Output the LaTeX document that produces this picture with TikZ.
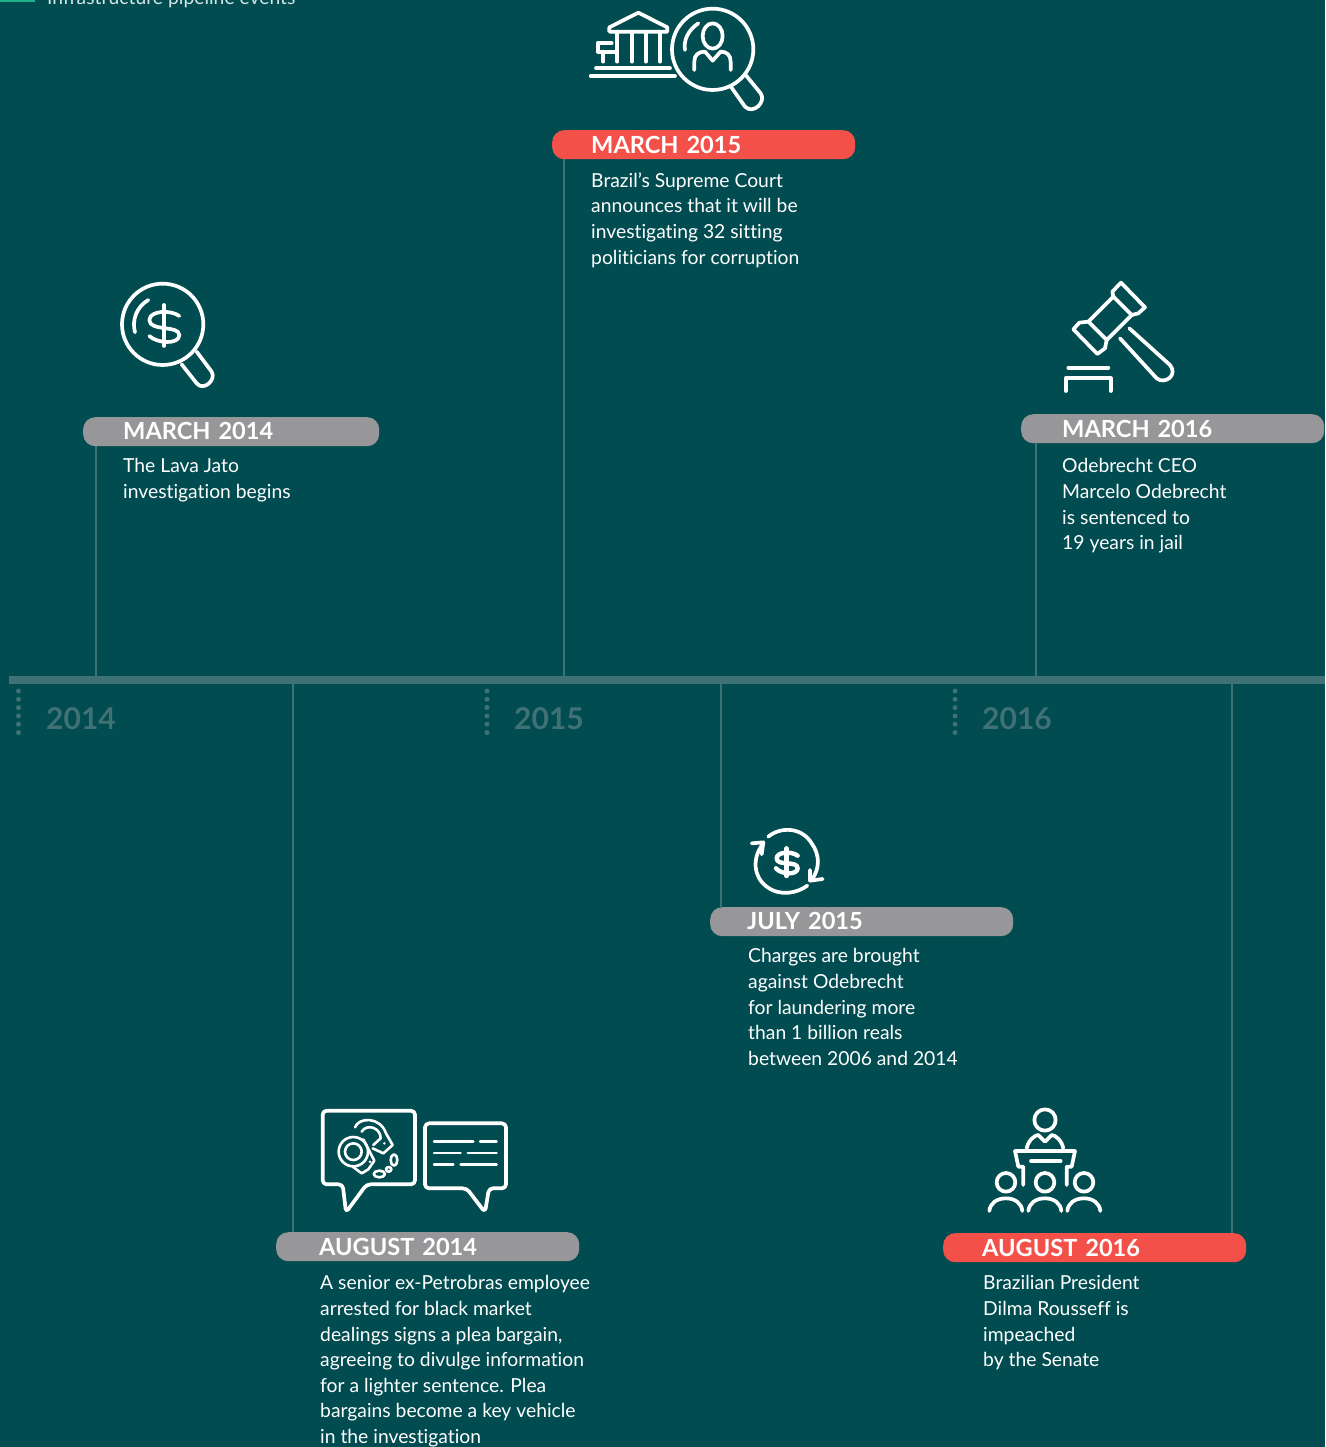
\documentclass[tikz,border=0pt]{standalone}
\usepackage{fontspec}
\setmainfont{Lato}[Ligatures=CommonOff]
\definecolor{bgteal}{HTML}{014C50}
\definecolor{axisteal}{HTML}{3F7175}
\definecolor{tagred}{HTML}{F4504A}
\definecolor{taggrey}{HTML}{97979A}
\definecolor{keygreen}{HTML}{1FB28A}
\definecolor{keytext}{HTML}{D5E5E5}
\newcommand{\tagtext}[3]{\hspace*{#1pt}\raisebox{#2pt}{#3}}
\tikzset{
  tagbox/.style={fill=#1, rounded corners=12pt, minimum width=303pt, minimum height=29pt, inner sep=0pt, text=white, anchor=north west, font=\fontsize{23.6}{25}\selectfont\bfseries, text width=223pt, align=left, inner xsep=40pt},
  bodytext/.style={text=white, anchor=north west, inner sep=0pt, align=left, font=\fontsize{19.3}{25.6}\selectfont},
  yeartext/.style={text=axisteal, anchor=base west, inner sep=0pt, font=\fontsize{30}{30}\selectfont\bfseries},
  stem/.style={axisteal, line width=2pt},
  yeardots/.style={axisteal, line width=5pt, line cap=round, dash pattern=on 0pt off 8.3pt},
  icon/.style={x=0.3333pt, y=-0.3333pt, white, line width=3.7pt, line cap=round, line join=round},
}
\begin{document}
\begin{tikzpicture}[x=1pt,y=-1pt]
\useasboundingbox (0,0) rectangle (1325,1447);
\clip (0,0) rectangle (1325,1447);
\fill[bgteal] (0,0) rectangle (1325,1447);
% key at the top
\fill[keygreen] (0,-4) rectangle (35,1.8);
\node[anchor=base west, inner sep=0pt, text=keytext, font=\fontsize{19.3}{20}\selectfont] (keylabel) at (47,4.5) {Infrastructure pipeline events};
% axis
\coordinate (axisl) at (9,680);
\coordinate (axisr) at (1325,680);
\draw[axisteal, line width=8pt] (axisl) -- (axisr);
\draw[yeardots] (18.5,691) -- (18.5,736);
\draw[yeardots] (487,691) -- (487,736);
\draw[yeardots] (955,691) -- (955,736);
\node[yeartext] (y14) at (46,729) {2014};
\node[yeartext] (y15) at (514,729) {2015};
\node[yeartext] (y16) at (982,729) {2016};
% tags
\node[tagbox=taggrey, minimum width=296pt, text width=216pt] (m14) at (83,417) {\tagtext{0}{2.5}{MARCH 2014}};
\node[tagbox=tagred] (m15) at (552,130) {\tagtext{-1}{0}{MARCH 2015}};
\node[tagbox=taggrey] (m16) at (1021,414) {\tagtext{1}{-2}{MARCH 2016}};
\node[tagbox=taggrey] (j15) at (710,907) {\tagtext{-3}{1}{JULY 2015}};
\node[tagbox=taggrey] (a14) at (276,1232) {\tagtext{3}{-2}{AUGUST 2014}};
\node[tagbox=tagred] (a16) at (943,1233) {\tagtext{-1}{0}{AUGUST 2016}};
% stems
\coordinate (c14) at (96,677);
\coordinate (c15) at (564,677);
\coordinate (c16) at (1036,677);
\coordinate (d14) at (293,684);
\coordinate (d15) at (721,684);
\coordinate (d16) at (1232,684);
\draw[stem] (m14.south -| c14) -- (c14);
\draw[stem] (m15.south -| c15) -- (c15);
\draw[stem] (m16.south -| c16) -- (c16);
\draw[stem] (a14.north -| d14) -- (d14);
\draw[stem] (j15.north -| d15) -- (d15);
\draw[stem] (a16.north -| d16) -- (d16);
% texts
\node[bodytext] (m14text) at ([shift={(40,12)}]m14.south west) {The Lava Jato\\investigation begins};
\node[bodytext] (m15text) at ([shift={(39,13)}]m15.south west) {Brazil’s Supreme Court\\announces that it will be\\investigating 32 sitting\\politicians for corruption};
\node[bodytext] (m16text) at ([shift={(41,15)}]m16.south west) {Odebrecht CEO\\Marcelo Odebrecht\\is sentenced to\\19 years in jail};
\node[bodytext] (j15text) at ([shift={(38,12)}]j15.south west) {Charges are brought\\against Odebrecht\\for laundering more\\than 1 billion reals\\between 2006 and 2014};
\node[bodytext] (a14text) at ([shift={(44,14)}]a14.south west) {A senior ex-Petrobras employee\\arrested for black market\\dealings signs a plea bargain,\\agreeing to divulge information\\for a lighter sentence. Plea\\bargains become a key vehicle\\in the investigation};
\node[bodytext] (a16text) at ([shift={(40,13)}]a16.south west) {Brazilian President\\Dilma Rousseff is\\impeached\\by the Senate};
% bank and magnifier
\begin{scope}[shift={(570,0)},icon]
\draw (118,95) -- (118,82) -- (205,38) -- (292,82) -- (292,95) -- cycle;
\draw (142,95) -- (142,185);
\draw (185,95) -- (185,185);
\draw (228,95) -- (228,185);
\draw (270,95) -- (270,185);
\draw (78,205) -- (300,205);
\draw (62,228) -- (315,228);
\draw (125,130) -- (83,130) -- (83,155) -- (135,155);
\draw (100,155) -- (100,185);
\draw (428,148) circle (122);
\draw (527,225) -- (572,280) .. controls (590,305) and (550,345) .. (525,320) -- (484,262);
\draw (385,70) .. controls (355,90) and (340,120) .. (345,150);
\draw (428,108) ellipse (30 and 38);
\draw (373,210) -- (373,185) .. controls (373,165) and (385,155) .. (405,155) -- (428,182) -- (452,155) .. controls (470,155) and (482,165) .. (482,185) -- (482,210);
\end{scope}
% dollar and magnifier
\begin{scope}[shift={(100,270)},icon]
\draw (188,163) circle (122);
\draw (290,245) -- (335,305) .. controls (350,330) and (310,365) .. (290,340) -- (245,283);
\draw (145,90) .. controls (110,110) and (95,150) .. (105,187);
\draw (192,105) -- (192,228);
\draw (238,138) .. controls (215,120) and (150,120) .. (148,150) .. controls (148,185) and (238,165) .. (238,195) .. controls (238,225) and (170,220) .. (148,198);
\end{scope}
% gavel
\begin{scope}[shift={(1040,270)},icon]
\draw (145,155) -- (220,80) -- (275,135) -- (200,210) -- cycle;
\draw (145,155) -- (118,158) -- (100,178) -- (172,252) -- (195,235) -- (200,210);
\draw (220,80) -- (217,65) -- (243,38) -- (315,112) -- (295,130) -- (275,135);
\draw (268,175) -- (390,285) .. controls (415,315) and (375,345) .. (350,325) -- (240,205);
\draw (85,293) -- (205,293);
\draw (77,363) -- (77,325) -- (212,325) -- (212,363);
\end{scope}
% dollar cycle
\begin{scope}[shift={(730,815)},icon]
\draw (115,65) .. controls (150,35) and (215,35) .. (245,85) .. controls (270,120) and (270,160) .. (245,195);
\draw (100,85) .. controls (65,130) and (70,185) .. (110,215) .. controls (150,245) and (200,235) .. (232,212);
\draw (65,85) -- (100,82) -- (95,118);
\draw (240,165) -- (240,197) -- (278,192);
\draw[line width=4.4pt] (170,100) -- (170,183);
\draw[line width=4.4pt] (203,122) .. controls (185,108) and (140,110) .. (140,130) .. controls (140,155) and (203,135) .. (203,160) .. controls (203,180) and (155,180) .. (138,160);
\end{scope}
% speech bubbles
\begin{scope}[shift={(300,1090)},icon]
\draw[rounded corners=4pt] (68,62) -- (345,62) -- (345,283) -- (200,283) -- (138,367) -- (128,283) -- (68,283) -- cycle;
\draw[rounded corners=4pt] (375,100) -- (618,100) -- (618,295) -- (567,295) -- (555,367) -- (500,295) -- (375,295) -- cycle;
\draw[line width=2.4pt] (402,155) -- (520,155) (540,155) -- (590,155);
\draw[line width=2.4pt] (402,189) -- (482,189) (503,189) -- (590,189);
\draw[line width=2.4pt] (402,224) -- (460,224) (482,224) -- (590,224);
\end{scope}
% handcuffs
\begin{scope}[shift={(330,1110)},icon,line width=2.6pt]
\draw (70,125) circle (44);
\draw (70,125) circle (25);
\draw (100,88) -- (133,152) -- (115,178) -- (95,190) -- (68,170);
\draw (75,52) .. controls (85,22) and (150,18) .. (168,70) -- (188,105) -- (160,130) -- (128,115);
\draw (95,65) .. controls (110,40) and (152,52) .. (152,85) -- (130,105);
\draw (192,150) ellipse (10 and 17);
\draw (176,178) ellipse (8 and 7);
\draw (148,192) ellipse (17 and 10);
\fill (120,155) circle (4);
\fill (163,100) circle (4);
\end{scope}
% podium and audience
\begin{scope}[shift={(970,1090)},icon]
\draw (225,90) circle (32);
\draw (170,175) .. controls (175,150) and (195,135) .. (205,135) -- (225,155) -- (245,135) .. controls (255,135) and (275,150) .. (280,175);
\draw (160,285) -- (160,230) -- (145,230) -- (135,183) -- (315,183) -- (305,230) -- (290,230) -- (290,285);
\draw (183,213) -- (272,213);
\draw (108,277) circle (28);
\draw (225,277) circle (28);
\draw (342,277) circle (28);
\draw (58,363) .. controls (60,340) and (80,325) .. (108,325) .. controls (135,325) and (155,340) .. (157,363);
\draw (175,363) .. controls (177,340) and (197,325) .. (225,325) .. controls (252,325) and (272,340) .. (274,363);
\draw (292,363) .. controls (294,340) and (314,325) .. (342,325) .. controls (369,325) and (389,340) .. (391,363);
\end{scope}
\end{tikzpicture}
\end{document}
